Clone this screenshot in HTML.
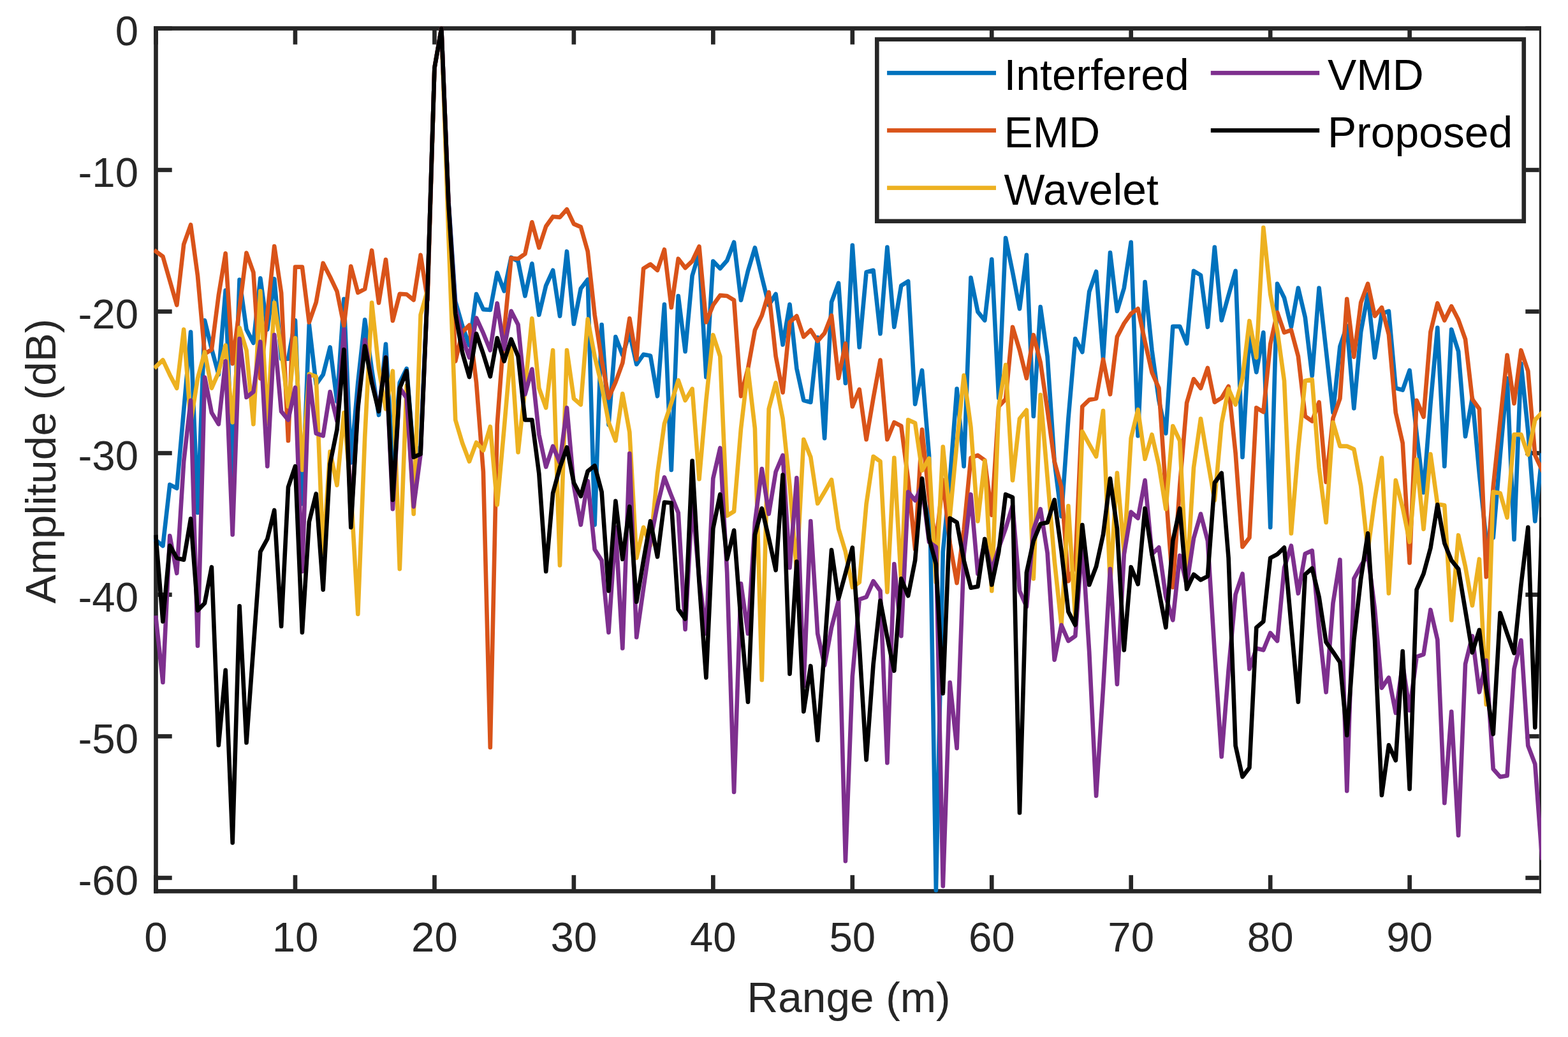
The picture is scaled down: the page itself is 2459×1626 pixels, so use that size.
<!DOCTYPE html>
<html lang="en"><head><meta charset="utf-8"><title>Range profile</title>
<style>html,body{margin:0;padding:0;background:#fff}body{width:2459px;height:1626px;overflow:hidden}svg{display:block}text{font-family:"Liberation Sans",sans-serif}</style></head><body>
<svg width="2459" height="1626" viewBox="0 0 2459 1626">
<rect x="0" y="0" width="2459" height="1626" fill="#fff"/>
<defs><clipPath id="c"><rect x="241.2" y="41.2" width="2175.8" height="1359.5"/></clipPath></defs>
<g fill="#262626">
<rect x="241.16" y="41.16" width="2175.84" height="6.67"/>
<rect x="241.16" y="1394.07" width="2175.84" height="6.67"/>
<rect x="241.16" y="41.16" width="6.67" height="1359.57"/>
<rect x="2413.80" y="41.16" width="3.20" height="1359.57"/>
<rect x="241.16" y="1372.20" width="6.67" height="25.20"/>
<rect x="241.16" y="44.50" width="6.67" height="25.20"/>
<rect x="459.63" y="1372.20" width="6.67" height="25.20"/>
<rect x="459.63" y="44.50" width="6.67" height="25.20"/>
<rect x="678.09" y="1372.20" width="6.67" height="25.20"/>
<rect x="678.09" y="44.50" width="6.67" height="25.20"/>
<rect x="896.54" y="1372.20" width="6.67" height="25.20"/>
<rect x="896.54" y="44.50" width="6.67" height="25.20"/>
<rect x="1115.01" y="1372.20" width="6.67" height="25.20"/>
<rect x="1115.01" y="44.50" width="6.67" height="25.20"/>
<rect x="1333.46" y="1372.20" width="6.67" height="25.20"/>
<rect x="1333.46" y="44.50" width="6.67" height="25.20"/>
<rect x="1551.92" y="1372.20" width="6.67" height="25.20"/>
<rect x="1551.92" y="44.50" width="6.67" height="25.20"/>
<rect x="1770.38" y="1372.20" width="6.67" height="25.20"/>
<rect x="1770.38" y="44.50" width="6.67" height="25.20"/>
<rect x="1988.85" y="1372.20" width="6.67" height="25.20"/>
<rect x="1988.85" y="44.50" width="6.67" height="25.20"/>
<rect x="2207.31" y="1372.20" width="6.67" height="25.20"/>
<rect x="2207.31" y="44.50" width="6.67" height="25.20"/>
<rect x="244.50" y="41.16" width="25.20" height="6.67"/>
<rect x="2392.30" y="41.16" width="21.50" height="6.67"/>
<rect x="244.50" y="263.17" width="25.20" height="6.67"/>
<rect x="2392.30" y="263.17" width="21.50" height="6.67"/>
<rect x="244.50" y="485.17" width="25.20" height="6.67"/>
<rect x="2392.30" y="485.17" width="21.50" height="6.67"/>
<rect x="244.50" y="707.16" width="25.20" height="6.67"/>
<rect x="2392.30" y="707.16" width="21.50" height="6.67"/>
<rect x="244.50" y="929.16" width="25.20" height="6.67"/>
<rect x="2392.30" y="929.16" width="21.50" height="6.67"/>
<rect x="244.50" y="1151.16" width="25.20" height="6.67"/>
<rect x="2392.30" y="1151.16" width="21.50" height="6.67"/>
<rect x="244.50" y="1373.16" width="25.20" height="6.67"/>
<rect x="2392.30" y="1373.16" width="21.50" height="6.67"/>
</g>
<g clip-path="url(#c)" fill="none" stroke-width="6.67" stroke-linejoin="round" stroke-linecap="square">
<polyline stroke="#0072BD" points="244.5,847.0 255.4,856.0 266.3,759.9 277.3,765.6 288.2,643.0 299.1,520.5 310.0,803.8 321.0,502.3 331.9,547.0 342.8,587.4 353.7,455.4 364.7,746.5 375.6,438.6 386.5,516.6 397.4,537.7 408.3,436.3 419.3,516.6 430.2,437.2 441.1,562.6 452.0,562.6 463.0,502.3 473.9,790.0 484.8,509.0 495.7,602.7 506.7,587.4 517.6,544.4 528.5,629.7 539.4,468.8 550.3,725.4 561.3,600.0 572.2,501.3 583.1,580.0 594.0,650.8 605.0,539.6 615.9,725.0 626.8,600.0 637.7,577.9 648.7,714.0 659.6,700.0 670.5,455.0 681.4,106.5 692.3,44.5 703.3,314.0 714.2,472.6 725.1,510.9 736.0,541.5 747.0,461.1 757.9,485.1 768.8,486.0 779.7,427.7 790.6,456.4 801.6,403.7 812.5,409.5 823.4,464.0 834.3,413.3 845.3,493.7 856.2,447.8 867.1,423.8 878.0,495.6 889.0,394.2 899.9,508.0 910.8,452.5 921.7,438.2 932.6,823.0 943.6,509.0 954.5,666.1 965.4,528.1 976.3,556.8 987.3,522.4 998.2,571.2 1009.1,555.9 1020.0,557.8 1031.0,621.1 1041.9,477.4 1052.8,736.9 1063.7,464.0 1074.6,551.1 1085.6,432.4 1096.5,396.1 1107.4,591.2 1118.3,409.5 1129.3,421.0 1140.2,408.5 1151.1,379.8 1162.0,470.7 1173.0,424.8 1183.9,388.4 1194.8,434.4 1205.7,478.4 1216.6,461.1 1227.6,540.5 1238.5,477.4 1249.4,577.9 1260.3,627.8 1271.3,630.7 1282.2,529.1 1293.1,687.1 1304.0,473.6 1315.0,443.9 1325.9,600.8 1336.8,384.6 1347.7,544.4 1358.6,426.7 1369.6,423.8 1380.5,523.3 1391.4,387.5 1402.3,512.8 1413.3,447.8 1424.2,441.1 1435.1,633.6 1446.0,580.7 1457.0,713.9 1467.9,1396.0 1478.8,865.0 1489.7,752.2 1500.6,609.7 1511.6,731.1 1522.5,435.3 1533.4,488.9 1544.3,502.3 1555.3,406.6 1566.2,624.0 1577.1,373.1 1588.0,426.7 1599.0,484.1 1609.9,399.9 1620.8,652.7 1631.7,481.2 1642.6,558.7 1653.6,723.5 1664.5,809.6 1675.4,656.5 1686.3,531.0 1697.3,552.0 1708.2,457.3 1719.1,425.8 1730.0,562.5 1741.0,396.1 1751.9,487.9 1762.8,451.6 1773.7,379.8 1784.6,683.3 1795.6,442.0 1806.5,549.2 1817.4,627.8 1828.3,679.5 1839.3,511.8 1850.2,511.8 1861.1,538.6 1872.0,424.8 1883.0,431.5 1893.9,512.8 1904.8,387.5 1915.7,502.3 1926.6,463.1 1937.6,424.8 1948.5,716.8 1959.4,524.3 1970.3,583.6 1981.3,521.4 1992.2,826.8 2003.1,444.9 2014.0,466.9 2024.9,512.8 2035.9,451.6 2046.8,497.5 2057.7,589.3 2068.6,451.6 2079.6,549.2 2090.5,647.0 2101.4,543.4 2112.3,510.9 2123.3,640.3 2134.2,520.5 2145.1,461.1 2156.0,560.6 2166.9,491.8 2177.9,487.9 2188.8,608.5 2199.7,611.6 2210.6,580.7 2221.6,679.5 2232.5,772.3 2243.4,633.6 2254.3,513.8 2265.3,731.1 2276.2,516.6 2287.1,551.1 2298.0,684.3 2308.9,624.0 2319.9,742.6 2330.8,847.9 2341.7,843.1 2352.6,713.9 2363.6,593.2 2374.5,845.9 2385.4,570.2 2396.3,675.7 2407.3,817.2 2418.2,713.9"/>
<polyline stroke="#D95319" points="244.5,394.2 255.4,402.2 266.3,440.1 277.3,478.4 288.2,383.1 299.1,352.5 310.0,432.4 321.0,554.9 331.9,548.2 342.8,463.1 353.7,397.4 364.7,570.2 375.6,483.1 386.5,396.5 397.4,427.1 408.3,593.4 419.3,491.8 430.2,386.0 441.1,459.2 452.0,691.0 463.0,418.7 473.9,418.7 484.8,505.5 495.7,474.2 506.7,412.7 517.6,434.0 528.5,456.9 539.4,510.9 550.3,417.5 561.3,458.9 572.2,453.1 583.1,392.7 594.0,474.9 605.0,407.0 615.9,502.9 626.8,460.8 637.7,461.5 648.7,470.3 659.6,399.9 670.5,469.8 681.4,106.5 692.3,44.5 703.3,314.0 714.2,566.4 725.1,520.5 736.0,509.9 747.0,600.0 757.9,739.8 768.8,1172.0 779.7,666.0 790.6,520.5 801.6,404.7 812.5,405.7 823.4,398.0 834.3,348.3 845.3,388.4 856.2,355.0 867.1,339.7 878.0,340.6 889.0,328.2 899.9,351.1 910.8,355.9 921.7,394.2 932.6,493.7 943.6,564.5 954.5,624.0 965.4,599.1 976.3,569.2 987.3,499.4 998.2,563.5 1009.1,421.0 1020.0,414.3 1031.0,423.8 1041.9,391.3 1052.8,482.2 1063.7,405.7 1074.6,420.0 1085.6,409.5 1096.5,386.5 1107.4,505.2 1118.3,478.4 1129.3,463.1 1140.2,464.0 1151.1,470.7 1162.0,621.1 1173.0,577.9 1183.9,517.6 1194.8,494.6 1205.7,458.3 1216.6,558.7 1227.6,615.4 1238.5,505.2 1249.4,495.6 1260.3,528.1 1271.3,517.6 1282.2,534.8 1293.1,522.4 1304.0,494.6 1315.0,593.2 1325.9,538.6 1336.8,637.4 1347.7,610.6 1358.6,689.1 1369.6,624.0 1380.5,564.5 1391.4,689.1 1402.3,662.3 1413.3,668.0 1424.2,752.2 1435.1,861.5 1446.0,673.7 1457.0,780.9 1467.9,851.7 1478.8,752.2 1489.7,851.7 1500.6,914.1 1511.6,830.6 1522.5,717.8 1533.4,713.9 1544.3,721.6 1555.3,807.7 1566.2,637.4 1577.1,625.7 1588.0,512.8 1599.0,549.2 1609.9,593.2 1620.8,525.2 1631.7,568.3 1642.6,643.1 1653.6,723.5 1664.5,763.7 1675.4,911.2 1686.3,886.2 1697.3,637.4 1708.2,626.9 1719.1,625.0 1730.0,563.5 1741.0,618.3 1751.9,528.1 1762.8,507.1 1773.7,491.8 1784.6,484.1 1795.6,535.8 1806.5,583.8 1817.4,608.7 1828.3,771.3 1839.3,920.8 1850.2,761.8 1861.1,631.7 1872.0,594.3 1883.0,608.7 1893.9,576.9 1904.8,630.7 1915.7,624.0 1926.6,605.8 1937.6,710.1 1948.5,857.4 1959.4,843.1 1970.3,639.3 1981.3,646.0 1992.2,539.6 2003.1,489.8 2014.0,521.4 2024.9,517.6 2035.9,558.7 2046.8,652.7 2057.7,660.4 2068.6,630.7 2079.6,756.0 2090.5,655.6 2101.4,625.0 2112.3,468.8 2123.3,559.7 2134.2,474.5 2145.1,444.9 2156.0,495.6 2166.9,482.2 2177.9,524.3 2188.8,647.0 2199.7,694.8 2210.6,882.5 2221.6,627.8 2232.5,653.7 2243.4,520.5 2254.3,475.5 2265.3,502.3 2276.2,480.3 2287.1,501.3 2298.0,531.9 2308.9,625.9 2319.9,641.2 2330.8,904.5 2341.7,763.7 2352.6,660.4 2363.6,556.8 2374.5,632.6 2385.4,549.2 2396.3,581.7 2407.3,713.9 2418.2,736.9"/>
<polyline stroke="#EDB120" points="244.5,575.0 255.4,564.5 266.3,587.7 277.3,608.7 288.2,516.6 299.1,662.3 310.0,593.2 321.0,552.0 331.9,608.7 342.8,583.8 353.7,541.5 364.7,662.3 375.6,513.8 386.5,549.2 397.4,665.1 408.3,456.4 419.3,664.2 430.2,474.5 441.1,549.2 452.0,637.4 463.0,530.0 473.9,736.9 484.8,586.5 495.7,590.5 506.7,867.2 517.6,708.2 528.5,760.8 539.4,647.0 550.3,771.3 561.3,962.9 572.2,685.2 583.1,474.5 594.0,577.9 605.0,641.2 615.9,581.7 626.8,892.1 637.7,604.6 648.7,805.8 659.6,493.7 670.5,455.0 681.4,106.5 692.3,44.5 703.3,367.4 714.2,658.4 725.1,694.8 736.0,723.5 747.0,693.8 757.9,706.3 768.8,669.0 779.7,791.4 790.6,671.8 801.6,545.3 812.5,709.1 823.4,608.7 834.3,499.4 845.3,608.7 856.2,639.3 867.1,549.2 878.0,886.4 889.0,549.2 899.9,625.0 910.8,634.5 921.7,500.4 932.6,558.7 943.6,604.6 954.5,662.3 965.4,691.0 976.3,617.3 987.3,677.6 998.2,874.9 1009.1,826.8 1020.0,855.5 1031.0,742.6 1041.9,664.2 1052.8,631.7 1063.7,596.3 1074.6,627.8 1085.6,609.7 1096.5,751.2 1107.4,627.8 1118.3,525.2 1129.3,558.7 1140.2,808.6 1151.1,801.9 1162.0,671.8 1173.0,578.9 1183.9,671.8 1194.8,1066.2 1205.7,641.2 1216.6,600.1 1227.6,656.5 1238.5,761.8 1249.4,895.9 1260.3,689.1 1271.3,716.8 1282.2,789.5 1293.1,771.3 1304.0,752.2 1315.0,828.7 1325.9,865.1 1336.8,920.8 1347.7,913.1 1358.6,790.5 1369.6,715.8 1380.5,723.5 1391.4,928.4 1402.3,717.8 1413.3,913.1 1424.2,658.4 1435.1,663.2 1446.0,737.8 1457.0,718.7 1467.9,913.1 1478.8,700.5 1489.7,809.6 1500.6,694.8 1511.6,588.6 1522.5,669.9 1533.4,817.2 1544.3,722.5 1555.3,926.5 1566.2,637.4 1577.1,572.1 1588.0,753.1 1599.0,656.5 1609.9,643.1 1620.8,907.4 1631.7,619.2 1642.6,748.4 1653.6,878.7 1664.5,980.1 1675.4,793.3 1686.3,968.6 1697.3,676.6 1708.2,696.7 1719.1,715.8 1730.0,644.1 1741.0,917.0 1751.9,741.7 1762.8,867.0 1773.7,687.1 1784.6,642.2 1795.6,719.7 1806.5,681.4 1817.4,729.2 1828.3,798.1 1839.3,668.0 1850.2,691.0 1861.1,909.3 1872.0,733.1 1883.0,656.5 1893.9,721.6 1904.8,784.7 1915.7,664.2 1926.6,609.7 1937.6,634.5 1948.5,593.4 1959.4,503.2 1970.3,560.6 1981.3,356.9 1992.2,461.1 2003.1,518.5 2014.0,597.0 2024.9,836.4 2035.9,704.4 2046.8,597.0 2057.7,595.1 2068.6,733.1 2079.6,819.2 2090.5,662.3 2101.4,699.6 2112.3,699.6 2123.3,704.4 2134.2,761.8 2145.1,863.2 2156.0,782.8 2166.9,717.8 2177.9,930.4 2188.8,753.1 2199.7,796.2 2210.6,849.8 2221.6,720.6 2232.5,829.7 2243.4,712.0 2254.3,790.5 2265.3,792.4 2276.2,972.4 2287.1,839.2 2298.0,888.3 2308.9,949.5 2319.9,876.7 2330.8,1104.5 2341.7,771.3 2352.6,773.2 2363.6,811.5 2374.5,681.4 2385.4,681.4 2396.3,713.0 2407.3,658.4 2418.2,647.0"/>
<polyline stroke="#7E2F8E" points="244.5,968.6 255.4,1070.0 266.3,840.2 277.3,898.8 288.2,723.5 299.1,627.8 310.0,1012.6 321.0,591.5 331.9,647.0 342.8,665.1 353.7,566.4 364.7,838.3 375.6,531.0 386.5,623.0 397.4,614.4 408.3,535.8 419.3,731.1 430.2,525.2 441.1,645.1 452.0,658.4 463.0,607.7 473.9,895.9 484.8,589.6 495.7,679.5 506.7,683.3 517.6,614.4 528.5,660.4 539.4,516.6 550.3,819.2 561.3,636.0 572.2,532.9 583.1,598.0 594.0,643.0 605.0,560.0 615.9,798.1 626.8,608.0 637.7,624.0 648.7,794.3 659.6,712.0 670.5,455.0 681.4,106.5 692.3,44.5 703.3,316.0 714.2,482.2 725.1,530.0 736.0,560.6 747.0,498.5 757.9,522.4 768.8,549.2 779.7,475.5 790.6,547.2 801.6,487.9 812.5,509.0 823.4,618.3 834.3,578.8 845.3,681.4 856.2,732.1 867.1,699.6 878.0,725.4 889.0,639.3 899.9,761.8 910.8,823.0 921.7,754.1 932.6,861.5 943.6,878.7 954.5,991.6 965.4,826.8 976.3,1016.5 987.3,711.1 998.2,999.2 1009.1,922.7 1020.0,847.9 1031.0,792.4 1041.9,748.4 1052.8,777.1 1063.7,803.9 1074.6,986.8 1085.6,786.6 1096.5,907.4 1107.4,993.5 1118.3,750.3 1129.3,702.4 1140.2,897.8 1151.1,1242.0 1162.0,915.1 1173.0,993.5 1183.9,819.2 1194.8,735.0 1205.7,805.8 1216.6,739.8 1227.6,713.9 1238.5,890.2 1249.4,749.3 1260.3,1075.8 1271.3,817.2 1282.2,993.5 1293.1,1043.2 1304.0,983.9 1315.0,941.8 1325.9,1350.1 1336.8,1060.5 1347.7,939.9 1358.6,936.1 1369.6,911.2 1380.5,926.5 1391.4,1196.1 1402.3,884.4 1413.3,997.3 1424.2,771.3 1435.1,784.7 1446.0,761.8 1457.0,850.0 1467.9,857.7 1478.8,1389.3 1489.7,1070.0 1500.6,1173.1 1511.6,869.1 1522.5,775.2 1533.4,899.7 1544.3,850.0 1555.3,894.0 1566.2,859.6 1577.1,828.7 1588.0,792.4 1599.0,926.5 1609.9,951.4 1620.8,830.6 1631.7,798.1 1642.6,867.0 1653.6,1034.6 1664.5,980.1 1675.4,1005.0 1686.3,997.3 1697.3,850.0 1708.2,1022.2 1719.1,1247.8 1730.0,1079.6 1741.0,892.1 1751.9,1072.9 1762.8,869.1 1773.7,802.9 1784.6,812.5 1795.6,753.1 1806.5,868.9 1817.4,858.4 1828.3,936.1 1839.3,972.4 1850.2,871.0 1861.1,917.0 1872.0,844.0 1883.0,805.8 1893.9,847.9 1904.8,1022.2 1915.7,1186.5 1926.6,1050.9 1937.6,932.3 1948.5,899.7 1959.4,1049.0 1970.3,1016.5 1981.3,1019.3 1992.2,992.5 2003.1,1005.0 2014.0,890.2 2024.9,855.7 2035.9,930.4 2046.8,868.2 2057.7,863.4 2068.6,983.9 2079.6,1085.3 2090.5,945.7 2101.4,877.7 2112.3,1240.1 2123.3,907.4 2134.2,887.3 2145.1,869.1 2156.0,955.2 2166.9,1078.6 2177.9,1062.4 2188.8,1117.9 2199.7,1041.3 2210.6,1114.0 2221.6,1029.8 2232.5,1026.0 2243.4,956.2 2254.3,1003.1 2265.3,1259.2 2276.2,1115.9 2287.1,1309.9 2298.0,1041.3 2308.9,997.3 2319.9,1085.3 2330.8,1035.6 2341.7,1205.7 2352.6,1218.1 2363.6,1216.2 2374.5,1049.0 2385.4,1004.0 2396.3,1169.3 2407.3,1198.0 2418.2,1345.0"/>
<polyline stroke="#000000" points="244.5,842.1 255.4,974.4 266.3,855.5 277.3,874.9 288.2,877.7 299.1,813.4 310.0,957.1 321.0,945.7 331.9,889.2 342.8,1168.4 353.7,1050.9 364.7,1321.4 375.6,950.4 386.5,1164.5 397.4,1015.0 408.3,865.1 419.3,845.0 430.2,800.0 441.1,982.0 452.0,763.7 463.0,731.1 473.9,991.6 484.8,818.2 495.7,774.2 506.7,924.6 517.6,727.3 528.5,673.7 539.4,548.2 550.3,826.8 561.3,640.0 572.2,542.5 583.1,600.0 594.0,645.1 605.0,560.6 615.9,783.8 626.8,608.7 637.7,581.7 648.7,716.8 659.6,712.0 670.5,456.0 681.4,106.5 692.3,44.5 703.3,318.0 714.2,491.8 725.1,553.0 736.0,591.2 747.0,523.3 757.9,554.9 768.8,590.3 779.7,530.0 790.6,566.4 801.6,531.9 812.5,558.7 823.4,658.4 834.3,658.4 845.3,742.6 856.2,895.9 867.1,773.2 878.0,733.1 889.0,701.5 899.9,757.0 910.8,778.0 921.7,738.8 932.6,730.2 943.6,771.3 954.5,926.5 965.4,785.7 976.3,876.8 987.3,794.3 998.2,943.7 1009.1,878.7 1020.0,817.2 1031.0,873.0 1041.9,787.6 1052.8,788.5 1063.7,955.2 1074.6,970.5 1085.6,722.5 1096.5,913.1 1107.4,1062.4 1118.3,828.7 1129.3,775.2 1140.2,876.8 1151.1,831.6 1162.0,974.4 1173.0,1100.6 1183.9,838.3 1194.8,797.2 1205.7,844.0 1216.6,894.0 1227.6,744.5 1238.5,1056.6 1249.4,880.6 1260.3,1115.7 1271.3,1044.2 1282.2,1160.7 1293.1,1016.5 1304.0,862.4 1315.0,939.0 1325.9,898.8 1336.8,858.6 1347.7,1012.6 1358.6,1191.3 1369.6,1041.3 1380.5,941.8 1391.4,999.2 1402.3,1051.8 1413.3,907.4 1424.2,934.2 1435.1,878.7 1446.0,750.3 1457.0,844.0 1467.9,884.4 1478.8,1087.2 1489.7,812.5 1500.6,819.2 1511.6,878.7 1522.5,921.7 1533.4,919.8 1544.3,845.0 1555.3,917.0 1566.2,865.3 1577.1,775.2 1588.0,779.9 1599.0,1274.5 1609.9,897.8 1620.8,847.9 1631.7,821.5 1642.6,819.2 1653.6,783.8 1664.5,863.2 1675.4,959.1 1686.3,980.1 1697.3,823.0 1708.2,917.0 1719.1,888.3 1730.0,838.3 1741.0,750.3 1751.9,828.7 1762.8,1019.3 1773.7,889.2 1784.6,916.0 1795.6,797.2 1806.5,869.1 1817.4,926.5 1828.3,983.9 1839.3,847.9 1850.2,797.2 1861.1,923.7 1872.0,900.7 1883.0,909.3 1893.9,903.6 1904.8,757.0 1915.7,741.7 1926.6,874.7 1937.6,1169.3 1948.5,1218.1 1959.4,1203.7 1970.3,983.9 1981.3,974.4 1992.2,874.9 2003.1,869.1 2014.0,858.6 2024.9,980.1 2035.9,1100.6 2046.8,900.7 2057.7,891.1 2068.6,936.1 2079.6,1006.9 2090.5,1022.2 2101.4,1038.5 2112.3,1153.0 2123.3,1003.1 2134.2,907.4 2145.1,836.4 2156.0,1003.1 2166.9,1246.8 2177.9,1168.4 2188.8,1192.3 2199.7,1021.2 2210.6,1237.2 2221.6,924.6 2232.5,899.7 2243.4,859.4 2254.3,791.4 2265.3,851.7 2276.2,878.7 2287.1,892.1 2298.0,957.1 2308.9,1023.1 2319.9,987.8 2330.8,1079.6 2341.7,1151.1 2352.6,961.0 2363.6,993.5 2374.5,1024.1 2385.4,917.0 2396.3,826.8 2407.3,1140.6 2418.2,815.0"/>
</g>
<g fill="#262626" font-size="65.40">
<text x="244.5" y="1492.3" text-anchor="middle">0</text>
<text x="463.0" y="1492.3" text-anchor="middle">10</text>
<text x="681.4" y="1492.3" text-anchor="middle">20</text>
<text x="899.9" y="1492.3" text-anchor="middle">30</text>
<text x="1118.3" y="1492.3" text-anchor="middle">40</text>
<text x="1336.8" y="1492.3" text-anchor="middle">50</text>
<text x="1555.3" y="1492.3" text-anchor="middle">60</text>
<text x="1773.7" y="1492.3" text-anchor="middle">70</text>
<text x="1992.2" y="1492.3" text-anchor="middle">80</text>
<text x="2210.6" y="1492.3" text-anchor="middle">90</text>
<text x="217.0" y="70.5" text-anchor="end">0</text>
<text x="217.0" y="292.5" text-anchor="end">-10</text>
<text x="217.0" y="514.5" text-anchor="end">-20</text>
<text x="217.0" y="736.5" text-anchor="end">-30</text>
<text x="217.0" y="958.5" text-anchor="end">-40</text>
<text x="217.0" y="1180.5" text-anchor="end">-50</text>
<text x="217.0" y="1402.5" text-anchor="end">-60</text>
</g>
<g fill="#262626" font-size="67.50">
<text x="1331.0" y="1587.2" text-anchor="middle">Range (m)</text>
<text transform="translate(86.5,723.0) rotate(-90)" text-anchor="middle">Amplitude (dB)</text>
</g>
<rect x="1375.30" y="61.70" width="1014.45" height="285.10" fill="#fff" stroke="#262626" stroke-width="6.67"/>
<g font-size="67.80" fill="#000">
<rect x="1391.10" y="111.07" width="170.90" height="6.67" fill="#0072BD"/>
<text x="1574.5" y="140.8">Interfered</text>
<rect x="1391.10" y="201.16" width="170.90" height="6.67" fill="#D95319"/>
<text x="1574.5" y="230.8">EMD</text>
<rect x="1391.10" y="291.27" width="170.90" height="6.67" fill="#EDB120"/>
<text x="1574.5" y="320.6">Wavelet</text>
<rect x="1898.80" y="111.07" width="170.40" height="6.67" fill="#7E2F8E"/>
<text x="2082.0" y="140.8">VMD</text>
<rect x="1898.80" y="201.16" width="170.40" height="6.67" fill="#000000"/>
<text x="2082.0" y="230.8">Proposed</text>
</g>
</svg></body></html>
